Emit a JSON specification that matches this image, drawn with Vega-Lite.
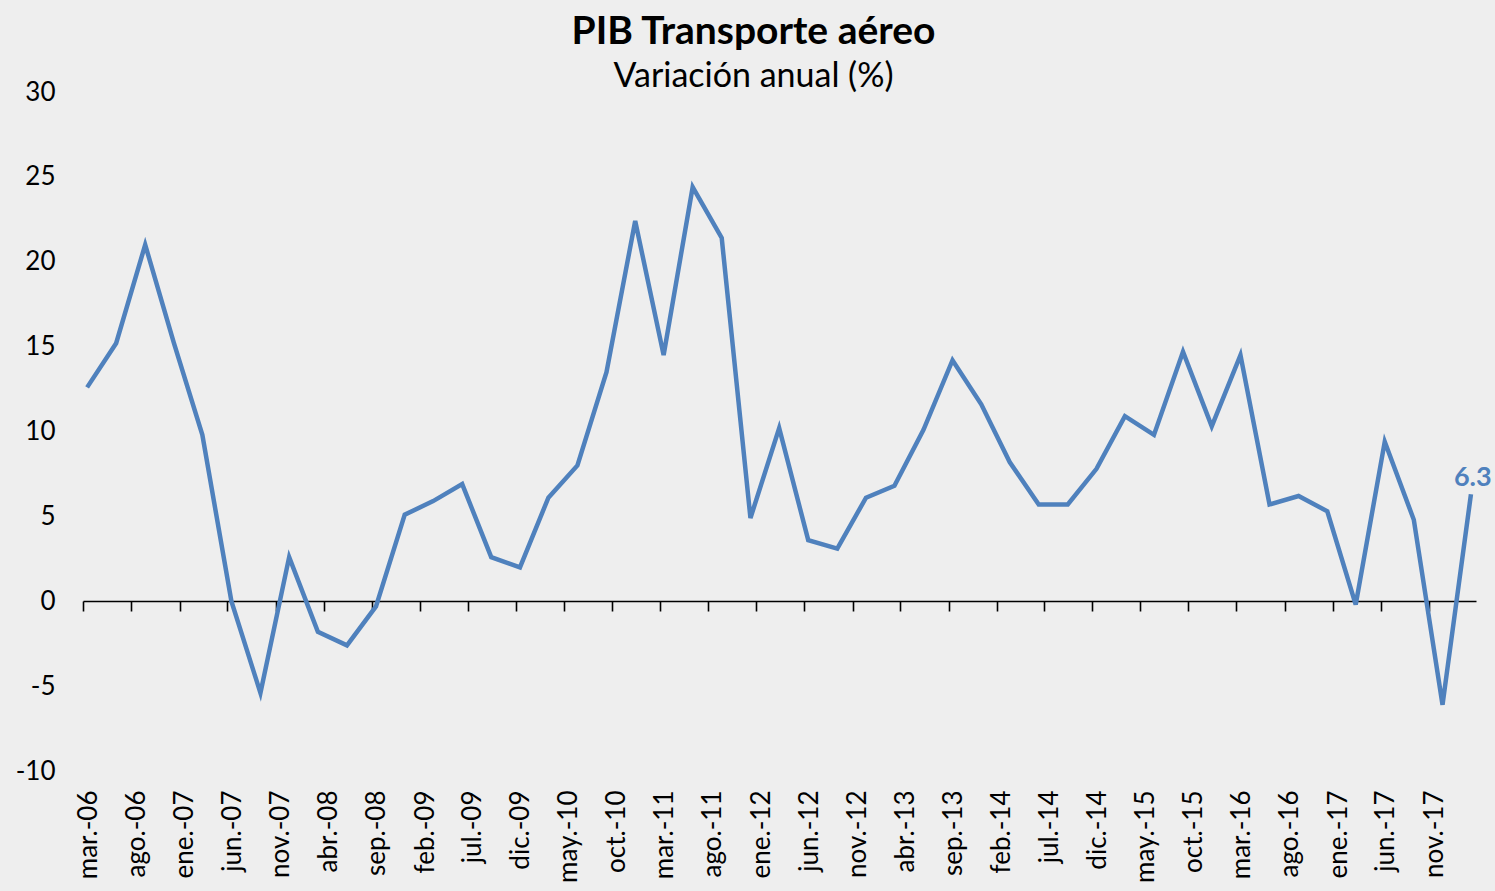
{
  "$schema": "https://vega.github.io/schema/vega-lite/v6.json",
  "width": 1393,
  "height": 679,
  "autosize": {"type": "none"},
  "padding": {"left": 83, "top": 92, "right": 19, "bottom": 120},
  "background": "#eeeeee",
  "config": {"view": {"stroke": null}, "font": "Lato"},
  "title": {
    "text": "PIB Transporte aéreo",
    "subtitle": "Variación anual (%)",
    "anchor": "middle",
    "frame": "group",
    "dx": -26,
    "offset": -15,
    "font": "Lato",
    "fontSize": 39,
    "fontWeight": "bold",
    "color": "#000000",
    "subtitleFont": "Lato",
    "subtitleFontSize": 34,
    "subtitleColor": "#000000",
    "subtitlePadding": 8
  },
  "data": {
    "values": [
      {"fecha": "2006/03/01", "var": 12.6},
      {"fecha": "2006/06/01", "var": 15.2},
      {"fecha": "2006/09/01", "var": 21.0},
      {"fecha": "2006/12/01", "var": 15.2},
      {"fecha": "2007/03/01", "var": 9.8},
      {"fecha": "2007/06/01", "var": 0.0},
      {"fecha": "2007/09/01", "var": -5.4},
      {"fecha": "2007/12/01", "var": 2.6},
      {"fecha": "2008/03/01", "var": -1.8},
      {"fecha": "2008/06/01", "var": -2.6},
      {"fecha": "2008/09/01", "var": -0.3},
      {"fecha": "2008/12/01", "var": 5.1},
      {"fecha": "2009/03/01", "var": 5.9},
      {"fecha": "2009/06/01", "var": 6.9},
      {"fecha": "2009/09/01", "var": 2.6},
      {"fecha": "2009/12/01", "var": 2.0},
      {"fecha": "2010/03/01", "var": 6.1},
      {"fecha": "2010/06/01", "var": 8.0},
      {"fecha": "2010/09/01", "var": 13.5},
      {"fecha": "2010/12/01", "var": 22.4},
      {"fecha": "2011/03/01", "var": 14.5},
      {"fecha": "2011/06/01", "var": 24.4},
      {"fecha": "2011/09/01", "var": 21.4},
      {"fecha": "2011/12/01", "var": 4.9},
      {"fecha": "2012/03/01", "var": 10.2},
      {"fecha": "2012/06/01", "var": 3.6},
      {"fecha": "2012/09/01", "var": 3.1},
      {"fecha": "2012/12/01", "var": 6.1},
      {"fecha": "2013/03/01", "var": 6.8},
      {"fecha": "2013/06/01", "var": 10.1},
      {"fecha": "2013/09/01", "var": 14.2},
      {"fecha": "2013/12/01", "var": 11.6},
      {"fecha": "2014/03/01", "var": 8.2},
      {"fecha": "2014/06/01", "var": 5.7},
      {"fecha": "2014/09/01", "var": 5.7},
      {"fecha": "2014/12/01", "var": 7.8},
      {"fecha": "2015/03/01", "var": 10.9},
      {"fecha": "2015/06/01", "var": 9.8},
      {"fecha": "2015/09/01", "var": 14.7},
      {"fecha": "2015/12/01", "var": 10.3},
      {"fecha": "2016/03/01", "var": 14.5},
      {"fecha": "2016/06/01", "var": 5.7},
      {"fecha": "2016/09/01", "var": 6.2},
      {"fecha": "2016/12/01", "var": 5.3},
      {"fecha": "2017/03/01", "var": -0.2},
      {"fecha": "2017/06/01", "var": 9.4},
      {"fecha": "2017/09/01", "var": 4.8},
      {"fecha": "2017/12/01", "var": -6.1},
      {"fecha": "2018/03/01", "var": 6.3}
    ]
  },
  "encoding": {
    "x": {
      "field": "fecha",
      "type": "temporal",
      "title": null,
      "scale": {
        "domain": [
          {"year": 2006, "month": 2, "date": 16},
          {"year": 2018, "month": 3, "date": 17}
        ]
      },
      "axis": {
        "offset": -170,
        "values": [
          {"year": 2006, "month": 3, "date": 1},
          {"year": 2006, "month": 8, "date": 1},
          {"year": 2007, "month": 1, "date": 1},
          {"year": 2007, "month": 6, "date": 1},
          {"year": 2007, "month": 11, "date": 1},
          {"year": 2008, "month": 4, "date": 1},
          {"year": 2008, "month": 9, "date": 1},
          {"year": 2009, "month": 2, "date": 1},
          {"year": 2009, "month": 7, "date": 1},
          {"year": 2009, "month": 12, "date": 1},
          {"year": 2010, "month": 5, "date": 1},
          {"year": 2010, "month": 10, "date": 1},
          {"year": 2011, "month": 3, "date": 1},
          {"year": 2011, "month": 8, "date": 1},
          {"year": 2012, "month": 1, "date": 1},
          {"year": 2012, "month": 6, "date": 1},
          {"year": 2012, "month": 11, "date": 1},
          {"year": 2013, "month": 4, "date": 1},
          {"year": 2013, "month": 9, "date": 1},
          {"year": 2014, "month": 2, "date": 1},
          {"year": 2014, "month": 7, "date": 1},
          {"year": 2014, "month": 12, "date": 1},
          {"year": 2015, "month": 5, "date": 1},
          {"year": 2015, "month": 10, "date": 1},
          {"year": 2016, "month": 3, "date": 1},
          {"year": 2016, "month": 8, "date": 1},
          {"year": 2017, "month": 1, "date": 1},
          {"year": 2017, "month": 6, "date": 1},
          {"year": 2017, "month": 11, "date": 1}
        ],
        "labelExpr": "['ene.','feb.','mar.','abr.','may.','jun.','jul.','ago.','sep.','oct.','nov.','dic.'][month(datum.value)] + '-' + timeFormat(datum.value, '%y')",
        "labelAngle": -90,
        "labelFontSize": 26,
        "labelColor": "#000000",
        "labelPadding": 179,
        "labelFlush": false,
        "labelOverlap": false,
        "labelBound": false,
        "tickOffset": -4,
        "labelOffset": 5,
        "domainColor": "#000000",
        "domainWidth": 1.6,
        "tickColor": "#000000",
        "tickWidth": 1.6,
        "tickSize": 10,
        "grid": false
      }
    },
    "y": {
      "field": "var",
      "type": "quantitative",
      "title": null,
      "scale": {"domain": [-10, 30], "nice": false, "zero": false},
      "axis": {
        "values": [-10, -5, 0, 5, 10, 15, 20, 25, 30],
        "labelExpr": "'' + datum.value",
        "domain": false,
        "ticks": false,
        "grid": false,
        "labelFontSize": 26,
        "labelColor": "#000000",
        "labelPadding": 28
      }
    }
  },
  "layer": [
    {
      "mark": {"type": "line", "color": "#4F81BD", "strokeWidth": 4.5, "clip": false}
    },
    {
      "transform": [{"filter": "year(datum.fecha) == 2018"}],
      "mark": {
        "type": "text",
        "color": "#4F81BD",
        "fontWeight": "bold",
        "fontSize": 27,
        "align": "left",
        "dx": -17,
        "dy": -16,
        "clip": false
      },
      "encoding": {
        "text": {"field": "var", "type": "quantitative", "format": ".1f"}
      }
    }
  ]
}
